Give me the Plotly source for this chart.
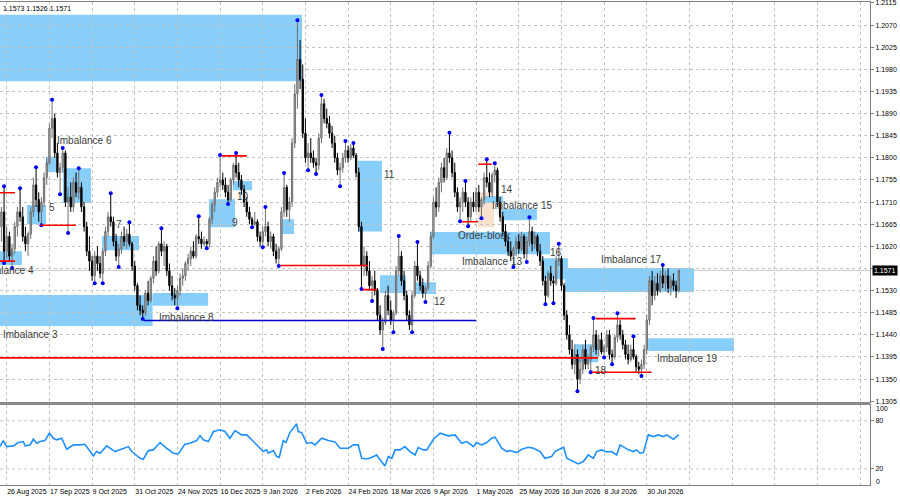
import plotly.graph_objects as go

# daily EURUSD-style bars (bar index 0 = first bar on the left)
opens = [1.1660, 1.1690, 1.1610, 1.1640, 1.1600, 1.1615, 1.1660, 1.1690, 1.1680, 1.1640,
         1.1625, 1.1645, 1.1690, 1.1745, 1.1715, 1.1690, 1.1710, 1.1760, 1.1790, 1.1860,
         1.1880, 1.1810, 1.1770, 1.1780, 1.1810, 1.1710, 1.1720, 1.1700, 1.1750, 1.1730,
         1.1740, 1.1700, 1.1660, 1.1610, 1.1590, 1.1560, 1.1600, 1.1585, 1.1565, 1.1610,
         1.1650, 1.1680, 1.1670, 1.1630, 1.1600, 1.1615, 1.1640, 1.1630, 1.1645, 1.1625,
         1.1580, 1.1540, 1.1500, 1.1490, 1.1485, 1.1525, 1.1510, 1.1555, 1.1590, 1.1570,
         1.1625, 1.1610, 1.1620, 1.1570, 1.1540, 1.1520, 1.1515, 1.1530, 1.1555, 1.1560,
         1.1585, 1.1595, 1.1610, 1.1600, 1.1640, 1.1635, 1.1625, 1.1630, 1.1625, 1.1675,
         1.1705, 1.1730, 1.1750, 1.1755, 1.1745, 1.1730, 1.1715, 1.1755, 1.1785, 1.1770,
         1.1755, 1.1735, 1.1710, 1.1690, 1.1675, 1.1665, 1.1670, 1.1640, 1.1630, 1.1650,
         1.1660, 1.1630, 1.1640, 1.1610, 1.1595, 1.1615, 1.1690, 1.1740, 1.1695, 1.1710,
         1.1830, 1.1930, 1.2000, 1.1960, 1.1850, 1.1800, 1.1810, 1.1800, 1.1790, 1.1785,
         1.1840, 1.1910, 1.1880, 1.1870, 1.1850, 1.1830, 1.1800, 1.1775, 1.1780, 1.1800,
         1.1815, 1.1800, 1.1820, 1.1805, 1.1770, 1.1660, 1.1580, 1.1600, 1.1570, 1.1540,
         1.1550, 1.1530, 1.1480, 1.1450, 1.1465, 1.1520, 1.1490, 1.1470, 1.1485, 1.1570,
         1.1600, 1.1550, 1.1520, 1.1480, 1.1460, 1.1520, 1.1580, 1.1560, 1.1540, 1.1525,
         1.1535, 1.1580, 1.1640, 1.1710, 1.1700, 1.1750, 1.1780, 1.1760, 1.1810, 1.1800,
         1.1770, 1.1730, 1.1700, 1.1710, 1.1730, 1.1710, 1.1680, 1.1710, 1.1700, 1.1730,
         1.1700, 1.1715, 1.1760, 1.1750, 1.1730, 1.1765, 1.1775, 1.1710, 1.1680, 1.1650,
         1.1630, 1.1610, 1.1600, 1.1615, 1.1630, 1.1615, 1.1640, 1.1605, 1.1630, 1.1650,
         1.1625, 1.1640, 1.1610, 1.1590, 1.1550, 1.1520, 1.1565, 1.1550, 1.1545, 1.1590,
         1.1595, 1.1540, 1.1480, 1.1440, 1.1410, 1.1380, 1.1400, 1.1350, 1.1370, 1.1410,
         1.1380, 1.1390, 1.1415, 1.1440, 1.1410, 1.1430, 1.1405, 1.1415, 1.1440, 1.1400,
         1.1395, 1.1435, 1.1460, 1.1440, 1.1420, 1.1400, 1.1390, 1.1410, 1.1395, 1.1375,
         1.1370, 1.1380, 1.1410, 1.1470, 1.1550, 1.1520, 1.1545, 1.1530, 1.1560, 1.1545,
         1.1560, 1.1535, 1.1550, 1.1540, 1.1530]
highs = [1.1700, 1.1742, 1.1660, 1.1650, 1.1625, 1.1670, 1.1700, 1.1738, 1.1700, 1.1660,
         1.1650, 1.1700, 1.1760, 1.1781, 1.1730, 1.1720, 1.1770, 1.1800, 1.1870, 1.1918,
         1.1890, 1.1830, 1.1790, 1.1820, 1.1815, 1.1740, 1.1750, 1.1760, 1.1770, 1.1779,
         1.1750, 1.1710, 1.1670, 1.1640, 1.1600, 1.1610, 1.1620, 1.1600, 1.1615, 1.1660,
         1.1690, 1.1728, 1.1680, 1.1645, 1.1625, 1.1650, 1.1660, 1.1655, 1.1669, 1.1630,
         1.1590, 1.1545, 1.1520, 1.1500, 1.1530, 1.1550, 1.1560, 1.1600, 1.1620, 1.1630,
         1.1657, 1.1630, 1.1625, 1.1585, 1.1560, 1.1535, 1.1540, 1.1565, 1.1575, 1.1590,
         1.1605, 1.1620, 1.1630, 1.1645, 1.1681, 1.1650, 1.1640, 1.1635, 1.1680, 1.1710,
         1.1740, 1.1760, 1.1806, 1.1770, 1.1760, 1.1745, 1.1760, 1.1790, 1.1810, 1.1790,
         1.1765, 1.1745, 1.1720, 1.1700, 1.1680, 1.1690, 1.1675, 1.1650, 1.1660, 1.1700,
         1.1670, 1.1650, 1.1645, 1.1625, 1.1620, 1.1700, 1.1769, 1.1745, 1.1720, 1.1840,
         1.1950, 1.2080, 1.2040, 1.1990, 1.1880, 1.1830, 1.1840, 1.1815, 1.1800, 1.1850,
         1.1928, 1.1920, 1.1900, 1.1885, 1.1865, 1.1845, 1.1810, 1.1790, 1.1810, 1.1834,
         1.1825, 1.1828, 1.1830, 1.1810, 1.1780, 1.1670, 1.1620, 1.1610, 1.1590, 1.1560,
         1.1570, 1.1535, 1.1500, 1.1475, 1.1530, 1.1540, 1.1510, 1.1490, 1.1580, 1.1641,
         1.1610, 1.1570, 1.1530, 1.1490, 1.1530, 1.1590, 1.1629, 1.1570, 1.1555, 1.1540,
         1.1590, 1.1650, 1.1720, 1.1740, 1.1760, 1.1790, 1.1800, 1.1820, 1.1851, 1.1815,
         1.1790, 1.1740, 1.1720, 1.1740, 1.1753, 1.1720, 1.1720, 1.1730, 1.1740, 1.1745,
         1.1720, 1.1770, 1.1797, 1.1770, 1.1770, 1.1789, 1.1780, 1.1720, 1.1690, 1.1665,
         1.1640, 1.1630, 1.1620, 1.1640, 1.1645, 1.1650, 1.1645, 1.1640, 1.1679, 1.1660,
         1.1650, 1.1645, 1.1625, 1.1600, 1.1560, 1.1570, 1.1580, 1.1560, 1.1600, 1.1625,
         1.1600, 1.1545, 1.1490, 1.1460, 1.1430, 1.1420, 1.1410, 1.1390, 1.1420, 1.1430,
         1.1400, 1.1420, 1.1474, 1.1450, 1.1440, 1.1445, 1.1420, 1.1450, 1.1450, 1.1410,
         1.1440, 1.1484, 1.1470, 1.1450, 1.1430, 1.1420, 1.1420, 1.1437, 1.1400, 1.1385,
         1.1390, 1.1420, 1.1480, 1.1560, 1.1570, 1.1560, 1.1565, 1.1570, 1.1582, 1.1570,
         1.1575, 1.1560, 1.1565, 1.1550, 1.1573]
lows = [1.1630, 1.1586, 1.1595, 1.1590, 1.1576, 1.1605, 1.1640, 1.1670, 1.1630, 1.1610,
        1.1600, 1.1635, 1.1680, 1.1700, 1.1670, 1.1663, 1.1700, 1.1745, 1.1785, 1.1840,
        1.1800, 1.1760, 1.1726, 1.1770, 1.1700, 1.1647, 1.1690, 1.1690, 1.1720, 1.1715,
        1.1690, 1.1650, 1.1600, 1.1570, 1.1550, 1.1545, 1.1570, 1.1555, 1.1545, 1.1600,
        1.1640, 1.1660, 1.1620, 1.1590, 1.1578, 1.1605, 1.1620, 1.1615, 1.1620, 1.1570,
        1.1530, 1.1490, 1.1480, 1.1472, 1.1478, 1.1500, 1.1505, 1.1545, 1.1560, 1.1565,
        1.1600, 1.1580, 1.1560, 1.1530, 1.1510, 1.1500, 1.1494, 1.1520, 1.1540, 1.1550,
        1.1570, 1.1580, 1.1595, 1.1595, 1.1625, 1.1615, 1.1620, 1.1616, 1.1618, 1.1665,
        1.1690, 1.1720, 1.1740, 1.1735, 1.1720, 1.1706, 1.1710, 1.1745, 1.1760, 1.1740,
        1.1725, 1.1700, 1.1680, 1.1665, 1.1659, 1.1661, 1.1630, 1.1620, 1.1618, 1.1640,
        1.1620, 1.1615, 1.1600, 1.1585, 1.1580, 1.1610, 1.1680, 1.1680, 1.1670, 1.1700,
        1.1820, 1.1900, 1.1940, 1.1840, 1.1790, 1.1775, 1.1790, 1.1780, 1.1767, 1.1775,
        1.1830, 1.1870, 1.1860, 1.1840, 1.1820, 1.1790, 1.1765, 1.1742, 1.1770, 1.1790,
        1.1790, 1.1795, 1.1800, 1.1760, 1.1650, 1.1533, 1.1560, 1.1560, 1.1530, 1.1509,
        1.1520, 1.1470, 1.1440, 1.1411, 1.1460, 1.1480, 1.1460, 1.1445, 1.1480, 1.1560,
        1.1540, 1.1510, 1.1470, 1.1450, 1.1445, 1.1515, 1.1550, 1.1530, 1.1515, 1.1507,
        1.1530, 1.1575, 1.1635, 1.1680, 1.1690, 1.1730, 1.1750, 1.1755, 1.1790, 1.1760,
        1.1720, 1.1690, 1.1671, 1.1690, 1.1700, 1.1661, 1.1670, 1.1690, 1.1690, 1.1690,
        1.1677, 1.1705, 1.1740, 1.1720, 1.1720, 1.1750, 1.1700, 1.1670, 1.1640, 1.1620,
        1.1600, 1.1590, 1.1578, 1.1600, 1.1605, 1.1610, 1.1595, 1.1588, 1.1620, 1.1610,
        1.1615, 1.1600, 1.1580, 1.1540, 1.1502, 1.1515, 1.1540, 1.1504, 1.1540, 1.1580,
        1.1530, 1.1470, 1.1430, 1.1400, 1.1370, 1.1360, 1.1325, 1.1340, 1.1360, 1.1370,
        1.1370, 1.1364, 1.1405, 1.1400, 1.1395, 1.1400, 1.1394, 1.1405, 1.1390, 1.1380,
        1.1390, 1.1425, 1.1430, 1.1410, 1.1390, 1.1380, 1.1385, 1.1390, 1.1365, 1.1360,
        1.1356, 1.1370, 1.1400, 1.1460, 1.1500, 1.1510, 1.1520, 1.1525, 1.1535, 1.1530,
        1.1525, 1.1520, 1.1530, 1.1515, 1.1526]
closes = [1.1690, 1.1610, 1.1640, 1.1600, 1.1615, 1.1660, 1.1690, 1.1680, 1.1640, 1.1625,
          1.1645, 1.1690, 1.1745, 1.1715, 1.1690, 1.1710, 1.1760, 1.1790, 1.1860, 1.1880,
          1.1810, 1.1770, 1.1780, 1.1810, 1.1710, 1.1720, 1.1700, 1.1750, 1.1730, 1.1740,
          1.1700, 1.1660, 1.1610, 1.1590, 1.1560, 1.1600, 1.1585, 1.1565, 1.1610, 1.1650,
          1.1680, 1.1670, 1.1630, 1.1600, 1.1615, 1.1640, 1.1630, 1.1645, 1.1625, 1.1580,
          1.1540, 1.1500, 1.1490, 1.1485, 1.1525, 1.1510, 1.1555, 1.1590, 1.1570, 1.1625,
          1.1610, 1.1620, 1.1570, 1.1540, 1.1520, 1.1515, 1.1530, 1.1555, 1.1560, 1.1585,
          1.1595, 1.1610, 1.1600, 1.1640, 1.1635, 1.1625, 1.1630, 1.1625, 1.1675, 1.1705,
          1.1730, 1.1750, 1.1755, 1.1745, 1.1730, 1.1715, 1.1755, 1.1785, 1.1770, 1.1755,
          1.1735, 1.1710, 1.1690, 1.1675, 1.1665, 1.1670, 1.1640, 1.1630, 1.1650, 1.1660,
          1.1630, 1.1640, 1.1610, 1.1595, 1.1615, 1.1690, 1.1740, 1.1695, 1.1710, 1.1830,
          1.1930, 1.2000, 1.1960, 1.1850, 1.1800, 1.1810, 1.1800, 1.1790, 1.1785, 1.1840,
          1.1910, 1.1880, 1.1870, 1.1850, 1.1830, 1.1800, 1.1775, 1.1780, 1.1800, 1.1815,
          1.1800, 1.1820, 1.1805, 1.1770, 1.1660, 1.1580, 1.1600, 1.1570, 1.1540, 1.1550,
          1.1530, 1.1480, 1.1450, 1.1465, 1.1520, 1.1490, 1.1470, 1.1485, 1.1570, 1.1600,
          1.1550, 1.1520, 1.1480, 1.1460, 1.1520, 1.1580, 1.1560, 1.1540, 1.1525, 1.1535,
          1.1580, 1.1640, 1.1710, 1.1700, 1.1750, 1.1780, 1.1760, 1.1810, 1.1800, 1.1770,
          1.1730, 1.1700, 1.1710, 1.1730, 1.1710, 1.1680, 1.1710, 1.1700, 1.1730, 1.1700,
          1.1715, 1.1760, 1.1750, 1.1730, 1.1765, 1.1775, 1.1710, 1.1680, 1.1650, 1.1630,
          1.1610, 1.1600, 1.1615, 1.1630, 1.1615, 1.1640, 1.1605, 1.1630, 1.1650, 1.1625,
          1.1640, 1.1610, 1.1590, 1.1550, 1.1520, 1.1565, 1.1550, 1.1545, 1.1590, 1.1595,
          1.1540, 1.1480, 1.1440, 1.1410, 1.1380, 1.1400, 1.1350, 1.1370, 1.1410, 1.1380,
          1.1390, 1.1415, 1.1440, 1.1410, 1.1430, 1.1405, 1.1415, 1.1440, 1.1400, 1.1395,
          1.1435, 1.1460, 1.1440, 1.1420, 1.1400, 1.1390, 1.1410, 1.1395, 1.1375, 1.1370,
          1.1380, 1.1410, 1.1470, 1.1550, 1.1520, 1.1545, 1.1530, 1.1560, 1.1545, 1.1560,
          1.1535, 1.1550, 1.1540, 1.1530, 1.1571]
bars = list(range(len(closes)))

# fractal arrows (blue dots) - bars where a swing high / low was marked
fractal_up_bars = [1, 7, 13, 19, 23, 29, 41, 48, 60, 74, 82, 88, 99, 106, 111, 120, 129, 132,
                   149, 156, 168, 174, 182, 185, 198, 209, 222, 231, 237, 248]
fractal_dn_bars = [1, 4, 15, 22, 25, 35, 38, 44, 53, 66, 77, 85, 94, 98, 104, 115, 118, 127,
                   135, 139, 143, 147, 154, 159, 172, 175, 180, 192, 197, 204, 207, 216, 221,
                   226, 229, 240]

# RSI sub-window
rsi_bar = [-0.5, 0.7, 2, 4.5, 6.3, 8.2, 8.9, 10.7, 12, 13.2,
           14.5, 16.3, 18, 19.5, 20.7, 22.6, 24.5, 27, 29.5, 31.3,
           34.5, 35.7, 37, 39.5, 42.6, 45.1, 47.6, 48.9, 52, 53.2,
           55.1, 57, 59.5, 62, 64.5, 66.3, 68.8, 70.7, 73.2, 74.5,
           75.7, 77.6, 79.5, 82, 83.8, 85.7, 87.6, 90.1, 92, 94.5,
           98.2, 99.5, 100.1, 102, 103.2, 104.2, 105.7, 106.7, 108.2, 110.7,
           111.3, 112.6, 114.5, 116.3, 117.6, 120.1, 122.6, 125.1, 127, 130.1,
           132, 133.8, 135.1, 137, 138.8, 140.7, 142, 143.8, 145.1, 146.4,
           147.6, 149.5, 151.3, 153.2, 155.1, 156.3, 158.2, 159.5, 162, 164.5,
           167.6, 170.1, 172.6, 174.5, 177, 178.2, 180.1, 182, 183.8, 185.1,
           187.6, 189.5, 190.7, 193.2, 195.1, 197.6, 199.5, 202, 203.8, 206.3,
           207.6, 209.5, 210.8, 212, 214.5, 216.3, 218.2, 220.1, 221.9, 223.2,
           225.1, 227, 228.8, 230.7, 232, 233.8, 235.1, 237, 238.2, 239.5,
           240.7, 242.6, 244.5, 246.3, 248.2, 249.5, 252, 254]
rsi_val = [47.9, 55.4, 47.9, 48.8, 52.9, 54.2, 48.8, 50.0, 57.1, 52.1,
           54.2, 55.4, 64.6, 58.3, 56.3, 58.3, 44.6, 50.0, 50.0, 50.8,
           36.3, 41.7, 39.6, 48.8, 41.7, 44.6, 47.9, 41.7, 33.3, 32.1,
           42.9, 43.8, 52.9, 45.8, 39.6, 38.8, 50.8, 52.1, 55.4, 61.7,
           56.3, 54.2, 66.7, 68.8, 66.7, 58.3, 67.9, 62.5, 62.5, 54.2,
           41.7, 43.8, 39.6, 42.9, 35.4, 34.6, 55.4, 52.9, 65.4, 76.3,
           66.7, 65.4, 52.1, 52.9, 50.0, 58.3, 55.4, 53.8, 45.8, 45.8,
           50.0, 50.0, 33.3, 32.5, 34.2, 37.5, 32.1, 23.8, 35.4, 33.3,
           43.8, 43.8, 47.9, 41.7, 37.5, 46.7, 43.8, 43.8, 57.1, 64.6,
           61.3, 62.5, 52.1, 54.2, 47.9, 52.9, 50.0, 52.9, 58.3, 59.6,
           45.8, 41.7, 42.9, 40.4, 44.6, 47.1, 45.8, 41.7, 33.3, 35.4,
           41.7, 44.6, 47.1, 33.3, 29.2, 26.3, 29.2, 37.5, 33.3, 41.7,
           43.8, 41.3, 41.7, 37.5, 50.0, 45.8, 43.8, 41.7, 43.8, 39.6,
           40.4, 62.5, 60.4, 62.5, 60.4, 62.5, 57.1, 62.5]

# imbalance zones: start bar, end bar, low, high
zone_x0 = [-2, -2, -2, 9.6, 16.7, 23.1, 37.7, 56.7, 77.8, 86.8, 104.7, 133.7, 142.0,
           154.7, 160.7, 180.6, 187.7, 202.7, 211.3, 214.7, 242.5]
zone_x1 = [112.7, 56.7, 7.7, 16.7, 20.5, 33.6, 51.6, 77.5, 87.6, 94.0, 109.7, 142.7, 151.7,
           163.0, 205.7, 188.1, 200.8, 212.4, 259.7, 223.7, 274.7]
zone_lo = [1.1956, 1.1458, 1.1582, 1.1665, 1.1771, 1.1708, 1.1612, 1.1499, 1.1659, 1.1734,
           1.1645, 1.1650, 1.1525, 1.1523, 1.1604, 1.1708, 1.1673, 1.1553, 1.1527, 1.1384,
           1.1407]
zone_hi = [1.2091, 1.1521, 1.1610, 1.1704, 1.1802, 1.1779, 1.1641, 1.1525, 1.1716, 1.1753,
           1.1675, 1.1794, 1.1561, 1.1547, 1.1649, 1.1722, 1.1696, 1.1596, 1.1576, 1.1421,
           1.1433]
# order block (peach)
ob_x0, ob_x1, ob_lo, ob_hi = 178.7, 184.7, 1.1659, 1.1730

# red level lines: price, start bar, end bar
level_price = [1.1393, 1.1729, 1.1590, 1.1663, 1.1804, 1.1581, 1.1532, 1.1670, 1.1787,
               1.1473, 1.1364]
level_x0 = [-2, -2, -2, 14.7, 82.6, 104.7, 135.5, 172.6, 178.8, 222.8, 221.4]
level_x1 = [223.7, 5.1, 5.1, 28.0, 92.0, 137.5, 140.8, 178.7, 183.9, 237.8, 243.8]
# blue level line
blue_price, blue_x0, blue_x1 = 1.1469, 53.5, 178.0

label_text = ["Imbalance 3", "Imbalance 4", "5", "Imbalance 6", "7", "Imbalance 8", "9", "10",
              "11", "12", "Order-block", "Imbalance 13", "14", "Imbalance 15", "16",
              "Imbalance 17", "18", "Imbalance 19"]
label_bar = [-0.3, 13.0, 17.1, 20.1, 42.2, 58.3, 85.7, 87.6, 142.7, 161.5, 170.5, 172.0,
             186.6, 183.2, 205.0, 224.0, 221.8, 245.0]
label_price = [1.1441, 1.1570, 1.1698, 1.1836, 1.1665, 1.1476, 1.1669, 1.1722, 1.1767, 1.1507,
               1.1643, 1.1590, 1.1736, 1.1704, 1.1608, 1.1594, 1.1368, 1.1391]

price_ticks = [1.1305, 1.1350, 1.1395, 1.1440, 1.1485, 1.1530, 1.1575, 1.1620, 1.1665, 1.1710,
               1.1755, 1.1800, 1.1845, 1.1890, 1.1935, 1.1980, 1.2025, 1.2070, 1.2115]
date_labels = ["26 Aug 2025", "17 Sep 2025", "9 Oct 2025", "31 Oct 2025", "24 Nov 2025",
               "16 Dec 2025", "9 Jan 2026", "2 Feb 2026", "24 Feb 2026", "18 Mar 2026",
               "9 Apr 2026", "1 May 2026", "25 May 2026", "16 Jun 2026", "8 Jul 2026",
               "30 Jul 2026"]
date_bars = [2, 18, 34, 50, 66, 82, 98, 114, 130, 146, 162, 178, 194, 210, 226, 242,
             258, 274, 290, 306, 322]
last_bar_text = "1.1573 1.1526 1.1571"
bid = closes[-1]

FONT = "Liberation Sans"
GRID = "#C4C4C4"
AXLINE = "#808080"

fig = go.Figure()

fig.add_trace(go.Candlestick(
    x=bars, open=opens, high=highs, low=lows, close=closes,
    increasing=dict(line=dict(color="#6E6E6E", width=1), fillcolor="#B4B4B4"),
    decreasing=dict(line=dict(color="#000000", width=1), fillcolor="#000000"),
    whiskerwidth=0, hoverinfo="skip", showlegend=False, xaxis="x", yaxis="y"))

fig.add_trace(go.Scatter(
    x=fractal_up_bars + fractal_dn_bars,
    y=[highs[i] for i in fractal_up_bars] + [lows[i] for i in fractal_dn_bars],
    mode="markers", marker=dict(color="#0000FF", size=4),
    hoverinfo="skip", showlegend=False, xaxis="x", yaxis="y"))

fig.add_trace(go.Scatter(
    x=rsi_bar, y=rsi_val, mode="lines", line=dict(color="#1E90FF", width=1.6),
    hoverinfo="skip", showlegend=False, xaxis="x2", yaxis="y2"))

# zones behind the candles
for x0, x1, lo, hi in zip(zone_x0, zone_x1, zone_lo, zone_hi):
    fig.add_shape(type="rect", xref="x", yref="y", x0=x0, x1=x1, y0=lo, y1=hi,
                  fillcolor="#87CEFA", line_width=0, layer="below")
fig.add_shape(type="rect", xref="x", yref="y", x0=ob_x0, x1=ob_x1, y0=ob_lo, y1=ob_hi,
              fillcolor="#FAE3CE", line_width=0, layer="below")
# re-draw the small blue box 14 on top of the peach block
fig.add_shape(type="rect", xref="x", yref="y", x0=zone_x0[15], x1=zone_x1[15],
              y0=zone_lo[15], y1=zone_hi[15], fillcolor="#87CEFA", line_width=0, layer="below")

# bid line
fig.add_shape(type="line", xref="paper", yref="y", x0=0, x1=1, y0=bid, y1=bid,
              line=dict(color="#C8C8C8", width=1), layer="below")

for p, x0, x1 in zip(level_price, level_x0, level_x1):
    fig.add_shape(type="line", xref="x", yref="y", x0=x0, x1=x1, y0=p, y1=p,
                  line=dict(color="#FF0000", width=1.6))
fig.add_shape(type="line", xref="x", yref="y", x0=blue_x0, x1=blue_x1, y0=blue_price,
              y1=blue_price, line=dict(color="#0000CD", width=1.6))

# RSI levels
for lvl in [20, 80]:
    fig.add_shape(type="line", xref="paper", yref="y2", x0=0, x1=1, y0=lvl, y1=lvl,
                  line=dict(color=GRID, width=1, dash="dot"), layer="below")

# window separator
fig.add_shape(type="rect", xref="paper", yref="paper", x0=0, x1=1, y0=0.166, y1=0.1715,
              fillcolor="#8C8C8C", line_width=0)

for t, b, p in zip(label_text, label_bar, label_price):
    fig.add_annotation(x=b, y=p, xref="x", yref="y", text=t, showarrow=False,
                       xanchor="right" if t == "Imbalance 4" else "left",
                       font=dict(family=FONT, size=10, color="#3C3C3C"))

fig.add_annotation(xref="paper", yref="paper", x=0, y=1, xanchor="left", yanchor="top",
                   xshift=1, yshift=-1, text=last_bar_text, showarrow=False,
                   font=dict(family=FONT, size=7, color="#000000"))
fig.add_annotation(xref="paper", yref="y", x=1, y=bid, xanchor="left", xshift=2,
                   text=f"{bid:.4f}", showarrow=False, bgcolor="#000000", borderpad=1,
                   font=dict(family=FONT, size=7, color="#FFFFFF"))

# 100 / 0 labels of the RSI window sit a little inside the window, as in the terminal
for v, shift in [(100, -4), (0, 4)]:
    fig.add_annotation(xref="paper", yref="y2", x=1, y=v, xanchor="left", xshift=4,
                       yshift=shift, text=str(v), showarrow=False,
                       font=dict(family=FONT, size=7, color="#000000"))

fig.update_layout(
    width=900, height=500,
    margin=dict(l=0, r=30, t=2, b=15),
    paper_bgcolor="white", plot_bgcolor="white",
    showlegend=False,
    xaxis=dict(domain=[0, 1], anchor="y", range=[-0.525, 325.7],
               tickvals=date_bars, showticklabels=False,
               showgrid=True, gridcolor=GRID, griddash="dot", gridwidth=1,
               zeroline=False, showline=True, mirror=True, linecolor=AXLINE,
               automargin=False, rangeslider=dict(visible=False)),
    yaxis=dict(domain=[0.1715, 1], anchor="x", range=[1.1303, 1.2117], side="right",
               tickvals=price_ticks,
               ticktext=["" if v == 1.1575 else f"{v:.4f}" for v in price_ticks],
               ticks="outside", ticklen=3, tickcolor=AXLINE, ticklabeloverflow="allow",
               tickfont=dict(family=FONT, size=7, color="#000000"),
               showgrid=True, gridcolor=GRID, griddash="dot", zeroline=False,
               showline=True, linecolor=AXLINE, automargin=False),
    xaxis2=dict(domain=[0, 1], anchor="y2", matches="x",
                tickvals=date_bars,
                ticktext=date_labels + [""] * (len(date_bars) - len(date_labels)),
                ticklabelposition="outside right", tickangle=0, ticklabeloverflow="allow",
                tickfont=dict(family=FONT, size=7, color="#000000"),
                showgrid=True, gridcolor=GRID, griddash="dot",
                zeroline=False, showline=True, mirror=True, linecolor=AXLINE,
                automargin=False),
    yaxis2=dict(domain=[0, 0.166], anchor="x2", range=[0, 100], side="right",
                tickvals=[20, 80], ticks="outside", ticklen=3, tickcolor=AXLINE,
                ticklabeloverflow="allow",
                tickfont=dict(family=FONT, size=7, color="#000000"),
                showgrid=False, zeroline=False, showline=True, linecolor=AXLINE,
                automargin=False),
)

# the page's default body margin would push the 900x500 figure off the window
fig.write_html("out.html", config={"displayModeBar": False},
               post_script="document.body.style.margin='0px';")
